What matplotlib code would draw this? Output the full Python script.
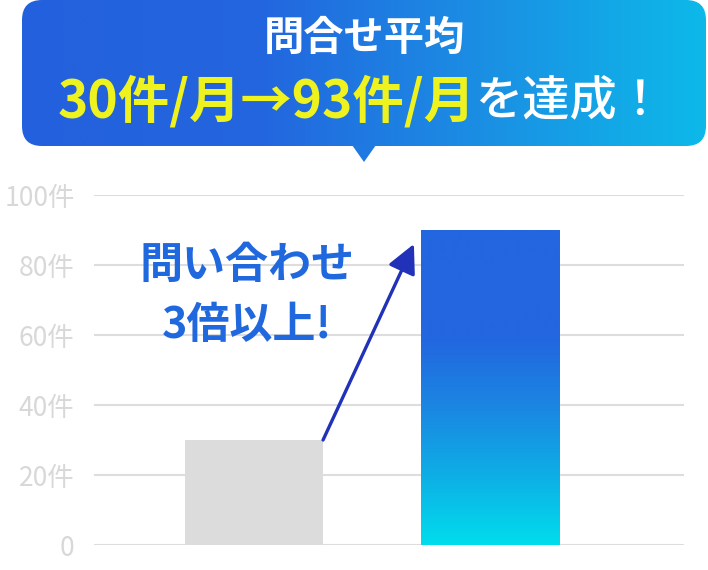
import numpy as np
import matplotlib
matplotlib.use("Agg")
import matplotlib.pyplot as plt
from matplotlib.patches import FancyBboxPatch, Polygon
from matplotlib.colors import LinearSegmentedColormap

plt.rcParams['font.family'] = ['Noto Sans CJK JP', 'DejaVu Sans']

# ---- data ----
categories = ['導入前', '導入後']
values = [30, 90]
yticks = [0, 20, 40, 60, 80, 100]
ytick_labels = ['0', '20件', '40件', '60件', '80件', '100件']
title_line1 = '問合せ平均'
title_hl = '30件/月→93件/月'
title_tail = 'を達成！'
note = '問い合わせ\n3倍以上!'

W, H = 708, 570
fig = plt.figure(figsize=(7.08, 5.70), dpi=100)

# background axes in pixel coordinates (header)
bg = fig.add_axes([0, 0, 1, 1])
bg.set_xlim(0, W)
bg.set_ylim(H, 0)
bg.axis('off')

hcmap = LinearSegmentedColormap.from_list(
    'hdr', [(0, '#2360dd'), (0.35, '#2366df'), (0.7, '#1a92e4'), (1, '#0db9e9')])
box = FancyBboxPatch((22, 0), 684, 146, boxstyle='round,pad=0,rounding_size=20',
                     transform=bg.transData, facecolor='none', edgecolor='none')
bg.add_patch(box)
grad = np.linspace(0, 1, 512).reshape(1, -1)
im = bg.imshow(grad, extent=[22, 706, 146, 0], aspect='auto', cmap=hcmap,
               interpolation='bilinear')
im.set_clip_path(box)
tri_frac = (364 - 22) / 684
bg.add_patch(Polygon([(352, 145), (376, 145), (364, 162)], closed=True,
                     facecolor=hcmap(tri_frac), edgecolor='none'))
bg.set_xlim(0, W)
bg.set_ylim(H, 0)

bg.text(364, 38, title_line1, ha='center', va='center', fontsize=29,
        fontweight='bold', color='white')

renderer = fig.canvas.get_renderer()
t1 = bg.text(0, 102, title_hl, ha='left', va='center', fontsize=37,
             fontweight='bold', color='#eef21f')
t2 = bg.text(0, 102, title_tail, ha='left', va='center', fontsize=34,
             fontweight='medium', color='white')
w1 = t1.get_window_extent(renderer).width
w2 = t2.get_window_extent(renderer).width
gap = 0
start = 361 - (w1 + gap + w2) / 2
t1.set_x(start)
t2.set_x(start + w1 + gap)

# ---- main chart ----
ax = fig.add_axes([94 / W, 25 / H, 590 / W, 350 / H])
ax.patch.set_alpha(0)
x = np.arange(len(categories))
bw = 0.585
bars = ax.bar(x, values, width=bw, color=['#dcdcdc', 'none'], zorder=2)
ax.set_xlim(-0.678, 1.822)
ax.set_ylim(0, 100)

bcmap = LinearSegmentedColormap.from_list(
    'bar', [(0, '#00ddec'), (0.22, '#0eaee6'), (0.44, '#1b86e2'),
            (0.66, '#2366e0'), (1, '#2366e0')])
b = bars[1]
vgrad = np.linspace(1, 0, 256).reshape(-1, 1)
bim = ax.imshow(vgrad, extent=[b.get_x(), b.get_x() + b.get_width(), 0, b.get_height()],
                aspect='auto', cmap=bcmap, interpolation='bilinear', zorder=2)
bim.set_clip_path(b)
ax.set_xlim(-0.678, 1.822)
ax.set_ylim(0, 100)

ax.set_yticks(yticks, ytick_labels)
ax.set_xticks([])
ax.yaxis.grid(True, color='#dddddd', lw=1.5, zorder=0)
ax.set_axisbelow(True)
ax.tick_params(axis='y', length=0, pad=14, labelsize=19, labelcolor='#d8d8d8')
for s in ax.spines.values():
    s.set_visible(False)

ax.annotate('', xy=(x[1] - bw / 2 - 0.03, values[1] - 4),
            xytext=(x[0] + bw / 2, values[0]),
            arrowprops=dict(arrowstyle='-|>,head_length=0.8,head_width=0.4',
                            mutation_scale=22, color='#2132b8', lw=2.4,
                            shrinkA=0, shrinkB=0), zorder=5)

ax.text(x[0] - 0.03, 71.5, note, ha='center', va='center', fontsize=31,
        fontweight='bold', color='#2068de', linespacing=1.45, zorder=6)

fig.savefig('out.png', dpi=100)
